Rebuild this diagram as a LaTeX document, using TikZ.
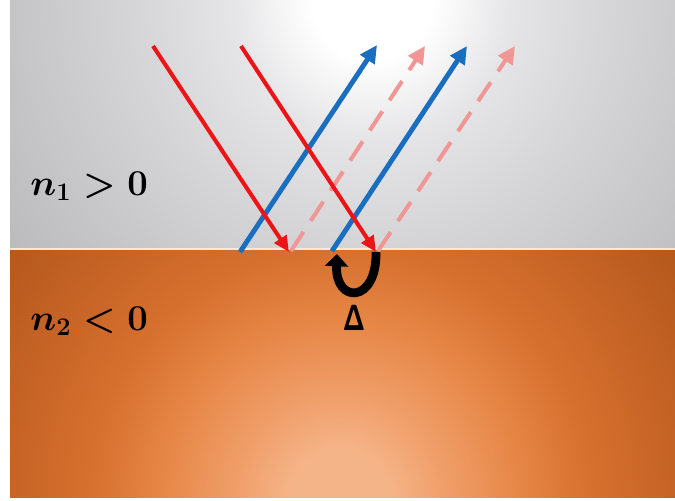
\documentclass[tikz,border=0pt]{standalone}
\usepackage{amsmath,amssymb,bm}
\usepackage{xcolor}
\usetikzlibrary{arrows.meta,positioning,calc}

\definecolor{airA}{RGB}{229,229,231}
\definecolor{airB}{RGB}{213,213,216}
\definecolor{airC}{RGB}{197,197,200}
\definecolor{airedge}{RGB}{182,182,185}
\definecolor{metalin}{RGB}{245,180,136}
\definecolor{metalA}{RGB}{240,160,108}
\definecolor{metalB}{RGB}{230,134,70}
\definecolor{metalC}{RGB}{214,112,46}
\definecolor{metalD}{RGB}{198,100,38}
\definecolor{metalout}{RGB}{180,88,28}
\definecolor{rayred}{RGB}{236,20,22}
\definecolor{rayblue}{RGB}{26,110,192}
\definecolor{raypink}{RGB}{240,150,148}

% 25bp of these shadings is the radius of the shaded circle
\pgfdeclareradialshading{airglow}{\pgfpoint{0bp}{0bp}}{%
  color(0bp)=(white); color(3bp)=(white); color(7bp)=(airA);
  color(12bp)=(airB); color(18bp)=(airC); color(24bp)=(airedge);
  color(50bp)=(airedge)}
\pgfdeclareradialshading{metalglow}{\pgfpoint{0bp}{0bp}}{%
  color(0bp)=(metalin); color(2.5bp)=(metalin); color(5bp)=(metalA);
  color(9bp)=(metalB); color(12.5bp)=(metalC); color(16.5bp)=(metalD);
  color(21bp)=(metalout); color(50bp)=(metalout)}

\begin{document}
\begin{tikzpicture}[
    x=0.02cm, y=-0.02cm,
    incident/.style={-{Triangle[length=9pt,width=8pt]},line width=2.3pt,rayred},
    reflect/.style={-{Triangle[length=10pt,width=9.5pt]},line width=2.8pt,rayblue},
    ghost/.style={-{Triangle[length=10pt,width=9.5pt]},line width=2.3pt,raypink,
        dash pattern=on 13pt off 7.5pt},
    twist/.style={-{Triangle[length=7pt,width=13pt]},line width=5pt,black},
    label/.style={inner sep=0pt,text=black},
]
    \path[use as bounding box,fill=white] (0,0) rectangle (675,500);

    % the two media
    \begin{scope}
        \clip (10,0) rectangle (675,249);
        \shade[shading=airglow] (372,0) circle (500);
    \end{scope}
    \begin{scope}
        \clip (10,249) rectangle (675,497);
        \shade[shading=metalglow] (340,500) circle (500);
    \end{scope}
    \draw[white!70!metalin,line width=0.6pt] (10,249) -- (675,249);

    % ray end points
    \coordinate (r1s) at (153,46);
    \coordinate (r1e) at (289,252);
    \coordinate (r2s) at (241,46);
    \coordinate (r2e) at (376,252);
    \coordinate (b1s) at (240,252);
    \coordinate (b1e) at (377,45);
    \coordinate (b2s) at (332,251);
    \coordinate (b2e) at (467,46);
    \coordinate (g1s) at (291,251);
    \coordinate (g1e) at (425,46);
    \coordinate (g2s) at (378,251);
    \coordinate (g2e) at (515,46);
    \coordinate (sh) at (337,254);

    \draw[ghost] (g1s) -- (g1e);
    \draw[ghost] (g2s) -- (g2e);
    \draw[reflect] (b1s) -- (b1e);
    \draw[reflect] (b2s) -- (b2e);
    \draw[incident] (r1s) -- (r1e);
    \draw[incident] (r2s) -- (r2e);

    % lateral shift
    \draw[twist] (r2e) .. controls (377,304) and (335,304) .. (sh);

    \node[label,anchor=base west,font=\fontsize{22}{26}\selectfont\boldmath]
        (n1lab) at (30,195) {$n_1>0$};
    \node[label,anchor=base west,font=\fontsize{22}{26}\selectfont\boldmath]
        (n2lab) at (30,330) {$n_2<0$};
    \node[label,anchor=base,xscale=0.68,font=\fontsize{20}{24}\selectfont\boldmath]
        (dlab) at (354,330) {$\mathsf{\Delta}$};
\end{tikzpicture}
\end{document}
